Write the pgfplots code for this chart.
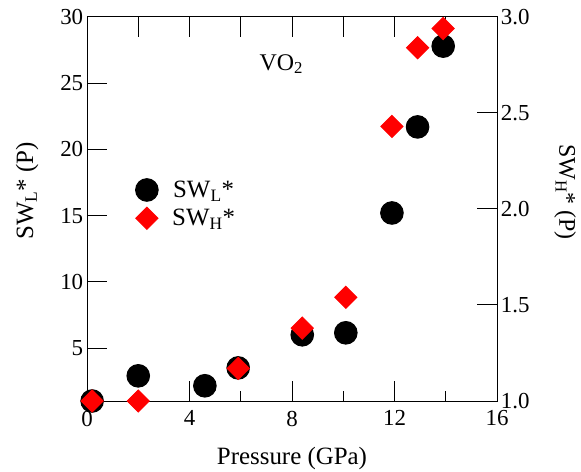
\documentclass[border=0pt]{standalone}
\usepackage{fontspec}
\setmainfont{Liberation Serif}
\usepackage{pgfplots}
\pgfplotsset{compat=1.18}
\begin{document}
\begin{tikzpicture}
\useasboundingbox (-87bp,-71bp) rectangle (494bp,401bp);
\pgfplotsset{
 every axis/.append style={
  scale only axis, width=410bp, height=384bp,
  xmin=0, xmax=16,
  line width=1bp,
  tick style={line width=1bp, black},
  major tick length=20bp, minor tick length=10bp,
  tick align=inside,
  tick label style={font=\fontsize{23}{26}\selectfont},
  label style={font=\fontsize{25}{28}\selectfont},
  /pgf/number format/assume math mode=true,
 }}
\begin{axis}[
 ymin=1, ymax=30,
 xtick={0,4,8,12,16}, minor xtick={2,6,10,14},
 ytick={5,10,15,20,25,30},
 xtick pos=bottom, ytick pos=left,
 xticklabel style={yshift=-6bp},
 xlabel={Pressure (GPa)},
 ylabel={SW\textsubscript{L}* (P)},
 xlabel style={at={(axis description cs:0.5,-0.151)}, anchor=center},
 ylabel style={at={(axis description cs:-0.146,0.547)}, anchor=center},
 clip=false,
]
\addplot[only marks, mark=*, mark size=11.3bp, black] table {
x y
0.2 1.0
2.0 2.9
4.6 2.15
5.9 3.5
8.4 6.0
10.1 6.15
11.9 15.2
12.9 21.7
13.9 27.8
};
\node at (axis cs:7.58,26.45) {\fontsize{24}{27}\selectfont VO\textsubscript{2}};
\end{axis}
\begin{axis}[
 ymin=1, ymax=3,
 axis x line*=top, axis y line*=right,
 xtick={2,4,6,8,10,12,14}, xticklabels={},
 ytick={1,1.5,2,2.5,3},
 yticklabel style={/pgf/number format/.cd, fixed, fixed zerofill, precision=1},
 ylabel={SW\textsubscript{H}* (P)},
 ylabel style={at={(axis description cs:1.166,0.544)}, anchor=center, rotate=180, font=\fontsize{24}{27}\selectfont},
 legend style={draw=none, fill=none, at={(axis description cs:0.11,0.513)}, anchor=west, font=\fontsize{25}{28}\selectfont, row sep=6bp,
   /tikz/every odd column/.append style={column sep=12bp}},
 clip=false,
]
\addlegendimage{only marks, mark=*, mark size=11.3bp, black}
\addlegendentry{SW\textsubscript{L}*}
\addplot[only marks, mark=square*, mark options={rotate=45}, mark size=7.8bp, red] table {
x y
0.2 1.0
2.0 1.0
5.9 1.17
8.4 1.38
10.1 1.54
11.9 2.43
12.9 2.84
13.9 2.94
};
\addlegendentry{SW\textsubscript{H}*}
\end{axis}
\end{tikzpicture}
\end{document}
